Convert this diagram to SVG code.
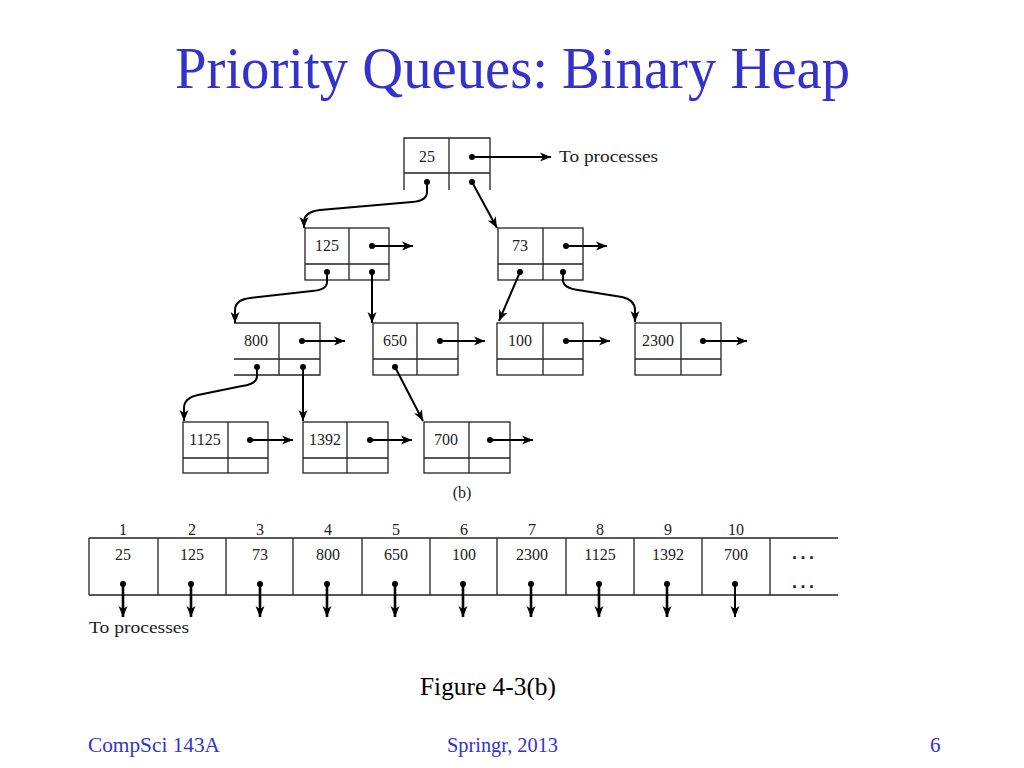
<svg xmlns="http://www.w3.org/2000/svg" width="1024" height="768" viewBox="0 0 1024 768">
<defs>
<marker id="ah" markerUnits="userSpaceOnUse" markerWidth="12" markerHeight="10" refX="11" refY="5" orient="auto">
<path d="M0,0.5 L11,5 L0,9.5 L3,5 z" fill="#000"/>
</marker>
<style>
.title{font-family:"Liberation Serif","Times New Roman",serif;font-size:60px;fill:#3333cc}
.foot{font-family:"Liberation Serif","Times New Roman",serif;font-size:21px;fill:#3333cc}
.cap{font-family:"Liberation Serif","Times New Roman",serif;font-size:25px;fill:#000}
.t{font-family:"Liberation Serif","Times New Roman",serif;font-size:16px;fill:#222;text-anchor:middle}
.tl{font-family:"Liberation Serif","Times New Roman",serif;font-size:16px;fill:#222}
.dots{font-family:"Liberation Sans",Arial,sans-serif;font-size:18px;font-weight:bold;fill:#222;letter-spacing:3.5px}
.box{fill:none;stroke:#222;stroke-width:1.3}
.arr{fill:none;stroke:#000;stroke-width:2;marker-end:url(#ah)}
.arr2{fill:none;stroke:#000;stroke-width:2.6;marker-end:url(#ah)}
.dot{fill:#000}
</style>
</defs>
<rect width="1024" height="768" fill="#fff"/>
<text class="title" x="175" y="88" textLength="675" lengthAdjust="spacingAndGlyphs">Priority Queues: Binary Heap</text>

<!-- heap tree nodes -->
<g id="node-25">
<path class="box" d="M404,190 V138 H490 V190 M449,138 V190 M404,173 H490"/>
<text class="t" x="427" y="162">25</text>
<circle class="dot" cx="472" cy="157" r="3"/>
<circle class="dot" cx="427" cy="182" r="3"/>
<circle class="dot" cx="472" cy="182" r="3"/>
<line class="arr" x1="472" y1="157" x2="551" y2="157"/>
<text class="tl" x="559" y="162" textLength="99" lengthAdjust="spacingAndGlyphs">To processes</text>
</g>
<g id="node-125">
<rect class="box" x="305" y="228" width="84" height="52"/>
<path class="box" d="M349,228 V280 M305,264 H389"/>
<text class="t" x="327" y="251">125</text>
<circle class="dot" cx="372" cy="246" r="3"/>
<circle class="dot" cx="327" cy="272" r="3"/>
<circle class="dot" cx="372" cy="272" r="3"/>
<line class="arr" x1="372" y1="246" x2="413" y2="246"/>
</g>
<g id="node-73">
<rect class="box" x="498" y="228" width="85" height="52"/>
<path class="box" d="M543,228 V280 M498,264 H583"/>
<text class="t" x="520" y="251">73</text>
<circle class="dot" cx="566" cy="246" r="3"/>
<circle class="dot" cx="520" cy="272" r="3"/>
<circle class="dot" cx="563" cy="272" r="3"/>
<line class="arr" x1="566" y1="246" x2="607" y2="246"/>
</g>
<g id="node-800">
<path class="box" d="M234,323 H320 V375 H234 M279,323 V375 M234,359 H320"/>
<text class="t" x="256" y="346">800</text>
<circle class="dot" cx="302" cy="341" r="3"/>
<circle class="dot" cx="257" cy="367" r="3"/>
<circle class="dot" cx="303" cy="367" r="3"/>
<line class="arr" x1="302" y1="341" x2="345" y2="341"/>
</g>
<g id="node-650">
<rect class="box" x="373" y="323" width="85" height="52"/>
<path class="box" d="M417,323 V375 M373,359 H458"/>
<text class="t" x="395" y="346">650</text>
<circle class="dot" cx="440" cy="341" r="3"/>
<circle class="dot" cx="395" cy="367" r="3"/>
<line class="arr" x1="440" y1="341" x2="485" y2="341"/>
</g>
<g id="node-100">
<rect class="box" x="497" y="323" width="86" height="52"/>
<path class="box" d="M543,323 V375 M497,359 H583"/>
<text class="t" x="520" y="346">100</text>
<circle class="dot" cx="566" cy="341" r="3"/>
<line class="arr" x1="566" y1="341" x2="610" y2="341"/>
</g>
<g id="node-2300">
<rect class="box" x="635" y="323" width="86" height="52"/>
<path class="box" d="M681,323 V375 M635,359 H721"/>
<text class="t" x="658" y="346">2300</text>
<circle class="dot" cx="703" cy="341" r="3"/>
<line class="arr" x1="703" y1="341" x2="747" y2="341"/>
</g>
<g id="node-1125">
<rect class="box" x="183" y="422" width="85" height="51"/>
<path class="box" d="M228,422 V473 M183,458 H268"/>
<text class="t" x="205" y="445">1125</text>
<circle class="dot" cx="250" cy="440" r="3"/>
<line class="arr" x1="250" y1="440" x2="293" y2="440"/>
</g>
<g id="node-1392">
<rect class="box" x="303" y="422" width="85" height="51"/>
<path class="box" d="M347,422 V473 M303,458 H388"/>
<text class="t" x="325" y="445">1392</text>
<circle class="dot" cx="370" cy="440" r="3"/>
<line class="arr" x1="370" y1="440" x2="412" y2="440"/>
</g>
<g id="node-700">
<rect class="box" x="424" y="422" width="86" height="51"/>
<path class="box" d="M469,422 V473 M424,458 H510"/>
<text class="t" x="446" y="445">700</text>
<circle class="dot" cx="490" cy="440" r="3"/>
<line class="arr" x1="490" y1="440" x2="533" y2="440"/>
</g>

<!-- tree connectors -->
<g id="connectors">
<path class="arr" d="M427,182 V192 Q427,201 412,202 L320,210 Q304,212 304,222 V228"/>
<line class="arr" x1="472" y1="182" x2="497" y2="228"/>
<path class="arr" d="M327,272 V282 Q327,290 312,291 L250,298 Q235,300 235,310 V323"/>
<line class="arr" x1="372" y1="272" x2="372" y2="323"/>
<line class="arr" x1="520" y1="272" x2="499" y2="321"/>
<path class="arr" d="M563,272 V280 Q563,288 578,290 L622,297 Q635,300 635,310 V322"/>
<path class="arr" d="M257,367 V376 Q257,384 242,386 L198,395 Q184,398 184,408 V421"/>
<line class="arr" x1="303" y1="367" x2="303" y2="421"/>
<line class="arr" x1="395" y1="367" x2="423" y2="421"/>
</g>

<text class="t" x="462" y="498">(b)</text>

<!-- array -->
<g id="array">
<path class="box" d="M89,538 H838 M89,595 H838 M89,538 V595 M158,538 V595 M226,538 V595 M293,538 V595 M362,538 V595 M430,538 V595 M497,538 V595 M566,538 V595 M634,538 V595 M702,538 V595 M770,538 V595"/>
<g class="t">
<text x="123" y="535">1</text><text x="192" y="535">2</text><text x="260" y="535">3</text><text x="328" y="535">4</text><text x="396" y="535">5</text><text x="464" y="535">6</text><text x="532" y="535">7</text><text x="600" y="535">8</text><text x="668" y="535">9</text><text x="736" y="535">10</text>
<text x="123" y="560">25</text><text x="192" y="560">125</text><text x="260" y="560">73</text><text x="328" y="560">800</text><text x="396" y="560">650</text><text x="464" y="560">100</text><text x="532" y="560">2300</text><text x="600" y="560">1125</text><text x="668" y="560">1392</text><text x="736" y="560">700</text>
</g>
<text class="dots" x="792" y="559">...</text>
<text class="dots" x="792" y="588">...</text>
<g>
<circle class="dot" cx="123" cy="584" r="3"/><line class="arr2" x1="123" y1="584" x2="123" y2="617"/>
<circle class="dot" cx="191" cy="584" r="3"/><line class="arr2" x1="191" y1="584" x2="191" y2="617"/>
<circle class="dot" cx="260" cy="584" r="3"/><line class="arr2" x1="260" y1="584" x2="260" y2="617"/>
<circle class="dot" cx="327" cy="584" r="3"/><line class="arr2" x1="327" y1="584" x2="327" y2="617"/>
<circle class="dot" cx="395" cy="584" r="3"/><line class="arr2" x1="395" y1="584" x2="395" y2="617"/>
<circle class="dot" cx="463" cy="584" r="3"/><line class="arr2" x1="463" y1="584" x2="463" y2="617"/>
<circle class="dot" cx="531" cy="584" r="3"/><line class="arr2" x1="531" y1="584" x2="531" y2="617"/>
<circle class="dot" cx="599" cy="584" r="3"/><line class="arr2" x1="599" y1="584" x2="599" y2="617"/>
<circle class="dot" cx="667" cy="584" r="3"/><line class="arr2" x1="667" y1="584" x2="667" y2="617"/>
<circle class="dot" cx="735" cy="584" r="3"/><line class="arr" x1="735" y1="584" x2="735" y2="617"/>
</g>
<text class="tl" x="89" y="633" textLength="100" lengthAdjust="spacingAndGlyphs">To processes</text>
</g>

<text class="cap" x="420" y="695" textLength="136" lengthAdjust="spacingAndGlyphs">Figure 4-3(b)</text>
<text class="foot" x="88" y="752" textLength="132" lengthAdjust="spacingAndGlyphs">CompSci 143A</text>
<text class="foot" x="447" y="752" textLength="111" lengthAdjust="spacingAndGlyphs">Springr, 2013</text>
<text class="foot" x="930" y="752">6</text>
</svg>
